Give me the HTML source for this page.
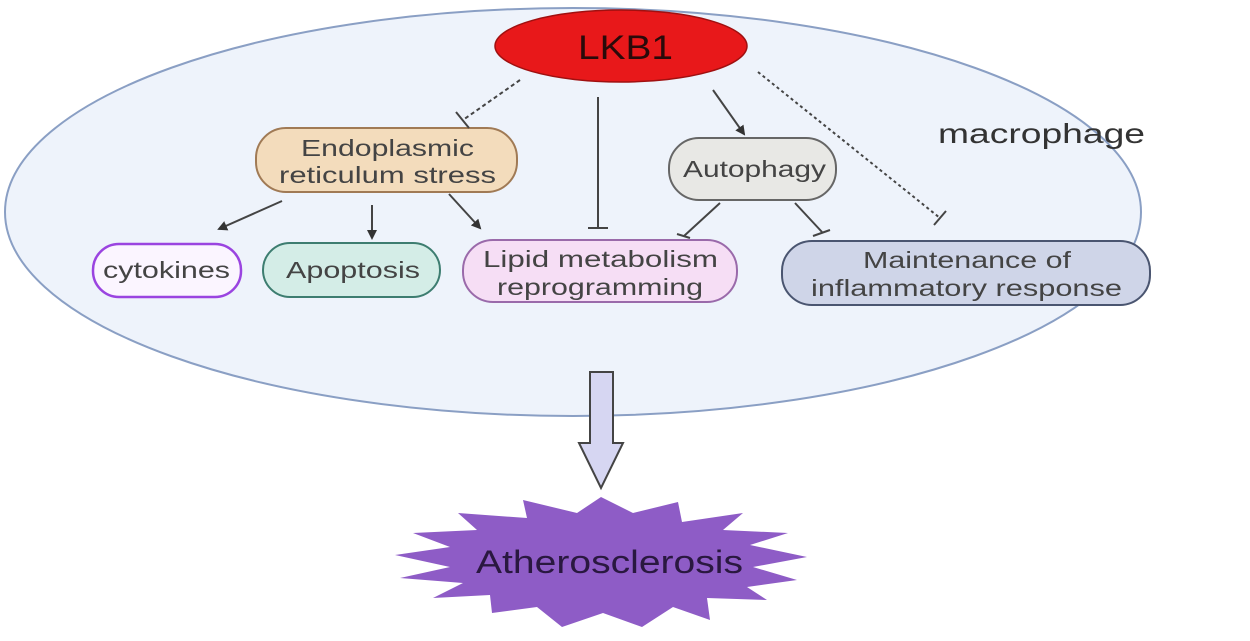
<!DOCTYPE html>
<html><head><meta charset="utf-8"><style>
html,body{margin:0;padding:0;background:#fff;}
svg{display:block;}
text{font-family:"Liberation Sans",sans-serif;}
</style></head><body>
<svg width="1250" height="641" viewBox="0 0 1250 641" xmlns="http://www.w3.org/2000/svg">
<defs>
<marker id="ar" markerWidth="10" markerHeight="10" refX="8" refY="5" orient="auto" markerUnits="userSpaceOnUse">
<path d="M0,0 L10,5 L0,10 z" fill="#333"/></marker>
</defs>
<ellipse cx="573" cy="212" rx="568" ry="204" fill="#eef3fb" stroke="#8a9fc4" stroke-width="2"/>
<ellipse cx="621" cy="46" rx="126" ry="36" fill="#e8181a" stroke="#a01010" stroke-width="1.5"/>
<text x="578" y="59" font-size="34" textLength="95" lengthAdjust="spacingAndGlyphs" fill="#2a0a0a">LKB1</text>
<text x="938" y="143" font-size="28" textLength="207" lengthAdjust="spacingAndGlyphs" fill="#333">macrophage</text>

<rect x="256" y="128" width="261" height="64" rx="30" fill="#f3dcbc" stroke="#a07a55" stroke-width="2"/>
<text x="301" y="156" font-size="23" textLength="173" lengthAdjust="spacingAndGlyphs" fill="#444">Endoplasmic</text>
<text x="279" y="183" font-size="23" textLength="217" lengthAdjust="spacingAndGlyphs" fill="#444">reticulum stress</text>

<rect x="93" y="244" width="148" height="53" rx="26" fill="#fbf5ff" stroke="#9a44e0" stroke-width="2.5"/>
<text x="103" y="278" font-size="23" textLength="127" lengthAdjust="spacingAndGlyphs" fill="#444">cytokines</text>
<rect x="263" y="243" width="177" height="54" rx="27" fill="#d4ede7" stroke="#3d7d70" stroke-width="2"/>
<text x="286" y="278" font-size="23" textLength="134" lengthAdjust="spacingAndGlyphs" fill="#444">Apoptosis</text>
<rect x="463" y="240" width="274" height="62" rx="30" fill="#f6def5" stroke="#9a6aaa" stroke-width="2"/>
<text x="483" y="267" font-size="23" textLength="235" lengthAdjust="spacingAndGlyphs" fill="#444">Lipid metabolism</text>
<text x="497" y="295" font-size="23" textLength="206" lengthAdjust="spacingAndGlyphs" fill="#444">reprogramming</text>
<rect x="669" y="138" width="167" height="62" rx="30" fill="#e8e8e5" stroke="#666" stroke-width="2"/>
<text x="683" y="177" font-size="23" textLength="143" lengthAdjust="spacingAndGlyphs" fill="#444">Autophagy</text>
<rect x="782" y="241" width="368" height="64" rx="30" fill="#cfd5e8" stroke="#4a5570" stroke-width="2"/>
<text x="863" y="268" font-size="23" textLength="208" lengthAdjust="spacingAndGlyphs" fill="#444">Maintenance of</text>
<text x="811" y="296" font-size="23" textLength="311" lengthAdjust="spacingAndGlyphs" fill="#444">inflammatory response</text>

<g stroke="#444" stroke-width="2" fill="none">
<line x1="520" y1="80" x2="463" y2="120" stroke-dasharray="4,3"/>
<line x1="456" y1="112" x2="469" y2="128"/>
<line x1="598" y1="97" x2="598" y2="228"/>
<line x1="588" y1="228" x2="608" y2="228"/>
<line x1="713" y1="90" x2="744" y2="134" marker-end="url(#ar)"/>
<line x1="758" y1="72" x2="940" y2="218" stroke-dasharray="3,3"/>
<line x1="934" y1="225" x2="946" y2="211"/>
<line x1="282" y1="201" x2="219" y2="229" marker-end="url(#ar)"/>
<line x1="372" y1="205" x2="372" y2="238" marker-end="url(#ar)"/>
<line x1="449" y1="194" x2="480" y2="228" marker-end="url(#ar)"/>
<line x1="720" y1="203" x2="684" y2="236"/>
<line x1="677" y1="234" x2="690" y2="238"/>
<line x1="795" y1="203" x2="822" y2="232"/>
<line x1="813" y1="236" x2="830" y2="230"/>
</g>

<path d="M590,372 L613,372 L613,443 L623,443 L601,488 L579,443 L590,443 Z" fill="#d6d6f2" stroke="#444" stroke-width="2"/>

<polygon fill="#8e5cc6" points="601,497 633,513 678,502 682,522 743,513 723,530 788,533 750,545 807,557 753,567 797,580 747,587 767,600 707,598 710,620 673,607 642,627 603,613 562,627 537,607 492,613 490,595 433,598 463,583 400,578 450,567 395,555 450,547 413,533 477,530 458,513 527,518 523,500 577,513"/>
<text x="476" y="573" font-size="32" textLength="267" lengthAdjust="spacingAndGlyphs" fill="#2a1840">Atherosclerosis</text>
</svg>
</body></html>
